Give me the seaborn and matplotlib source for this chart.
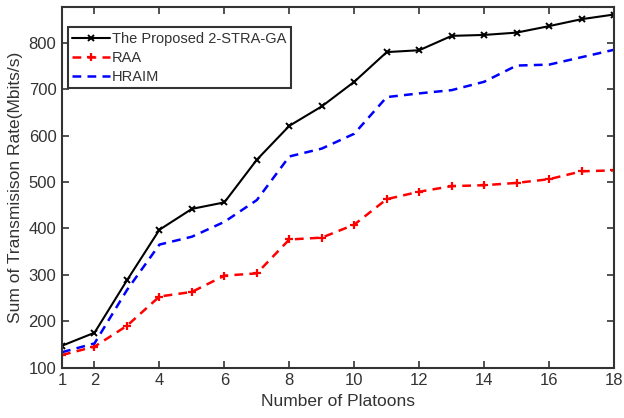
import pandas as pd
import matplotlib.pyplot as plt
import seaborn as sns

# Data
platoons = list(range(1, 19))
proposed = [147, 175, 288, 397, 442, 456, 548, 621, 663, 716, 780, 784,
            815, 817, 822, 836, 851, 861]
raa = [127, 145, 190, 253, 263, 298, 303, 376, 380, 408, 463, 479,
       491, 493, 498, 506, 523, 525]
hraim = [133, 152, 267, 365, 382, 414, 461, 555, 572, 604, 683, 691,
         698, 716, 751, 753, 769, 785]
x_ticks = [1, 2, 4, 6, 8, 10, 12, 14, 16, 18]
y_ticks = [100, 200, 300, 400, 500, 600, 700, 800]

sns.set_theme(style="ticks")
plt.rcParams['font.family'] = ['Liberation Sans', 'DejaVu Sans']
plt.rcParams['text.color'] = '#333333'
plt.rcParams['axes.labelcolor'] = '#333333'
plt.rcParams['xtick.color'] = '#333333'
plt.rcParams['ytick.color'] = '#333333'

df = pd.DataFrame({'platoons': platoons, 'proposed': proposed,
                   'raa': raa, 'hraim': hraim})

fig = plt.figure(figsize=(6.24, 4.18), dpi=100)
ax = fig.add_axes([0.0994, 0.1208, 0.8846, 0.8622])

sns.lineplot(data=df, x='platoons', y='proposed', ax=ax, color='black',
             marker='x', markersize=4.5, markeredgewidth=1.4,
             markeredgecolor='black', linewidth=1.5,
             label='The Proposed 2-STRA-GA')
sns.lineplot(data=df, x='platoons', y='raa', ax=ax, color='#ff0000',
             marker='+', markersize=5.5, markeredgewidth=1.6,
             markeredgecolor='#ff0000', linewidth=1.8,
             linestyle=(0, (3.5, 2.5)), label='RAA')
sns.lineplot(data=df, x='platoons', y='hraim', ax=ax, color='#0000ff',
             linewidth=1.8, linestyle=(0, (3.5, 2.5)), label='HRAIM')

ax.set_xlim(1, 18)
ax.set_ylim(100, 877)
ax.set_xticks(x_ticks)
ax.set_yticks(y_ticks)
ax.tick_params(direction='in', top=True, right=True, length=5, width=1.2,
               labelsize=12, pad=4)
for s in ax.spines.values():
    s.set_linewidth(1.5)
    s.set_color('#333333')
ax.set_xlabel('Number of Platoons', fontsize=12.5)
ax.set_ylabel('Sum of Transmisison Rate(Mbits/s)', fontsize=12.5)

leg = ax.legend(loc='upper left', bbox_to_anchor=(0.011, 0.944), fontsize=10.5,
                frameon=True, fancybox=False, handlelength=2.6,
                borderpad=0.3, labelspacing=0.35, handletextpad=0.1,
                borderaxespad=0)
leg.get_frame().set_edgecolor('#333333')
leg.get_frame().set_linewidth(1.5)
leg.get_frame().set_alpha(1)

fig.savefig('out.png', dpi=100)
